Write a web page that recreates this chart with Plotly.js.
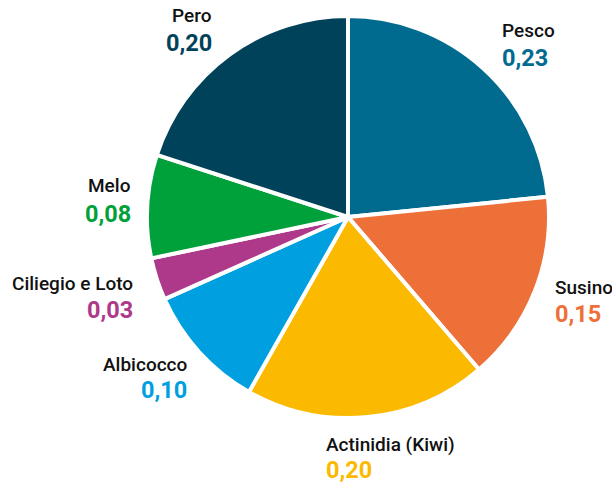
<!DOCTYPE html>
<html>
<head>
<meta charset="utf-8">
<script src="https://cdn.plot.ly/plotly-3.0.1.min.js"></script>
<style>html,body{margin:0;padding:0;background:#fff;}#chart{width:612px;height:486px;}</style>
</head>
<body>
<div id="chart"></div>
<script>
// Data
const categories = ["Pesco", "Susino", "Actinidia (Kiwi)", "Albicocco", "Ciliegio e Loto", "Melo", "Pero"];
const values = [0.234, 0.153, 0.195, 0.101, 0.034, 0.083, 0.200];
const shownValues = ["0,23", "0,15", "0,20", "0,10", "0,03", "0,08", "0,20"];
const colors = ["#006B8F", "#EE7039", "#FBB900", "#009FDF", "#AE3889", "#00A03B", "#004259"];

// Label placement (style, pixels): anchor x, name centre y, value centre y, alignment
const labelX = [500, 553, 324, 189, 135, 133, 214];
const nameY = [31, 287, 444, 364, 283, 186, 16];
const valueY = [58, 314, 470, 390, 310, 214, 43];
const labelAlign = ["left", "left", "left", "right", "right", "right", "right"];

const W = 612, H = 486;
const annotations = [];
categories.forEach((c, i) => {
  annotations.push({
    text: c, xref: "paper", yref: "paper",
    x: labelX[i] / W, y: 1 - nameY[i] / H,
    xanchor: labelAlign[i], yanchor: "middle", showarrow: false,
    font: {family: "Roboto", size: 19, color: "#111111", weight: 500}
  });
  annotations.push({
    text: shownValues[i], xref: "paper", yref: "paper",
    x: labelX[i] / W, y: 1 - valueY[i] / H,
    xanchor: labelAlign[i], yanchor: "middle", showarrow: false,
    font: {family: "Roboto", size: 23.5, color: colors[i], weight: 700}
  });
});

const cx = 348, cy = 217, r = 201;
const trace = {
  type: "pie",
  labels: categories,
  values: values,
  sort: false,
  direction: "clockwise",
  rotation: 0,
  textinfo: "none",
  hoverinfo: "label+value",
  marker: {colors: colors, line: {color: "#ffffff", width: 4}},
  domain: {x: [(cx - r) / W, (cx + r) / W], y: [1 - (cy + r) / H, 1 - (cy - r) / H]}
};

const layout = {
  width: W, height: H,
  margin: {l: 0, r: 0, t: 0, b: 0},
  paper_bgcolor: "#ffffff",
  showlegend: false,
  separators: ",.",
  annotations: annotations,
  font: {family: "Roboto"}
};

Plotly.newPlot("chart", [trace], layout, {displayModeBar: false, staticPlot: true});
</script>
</body>
</html>
